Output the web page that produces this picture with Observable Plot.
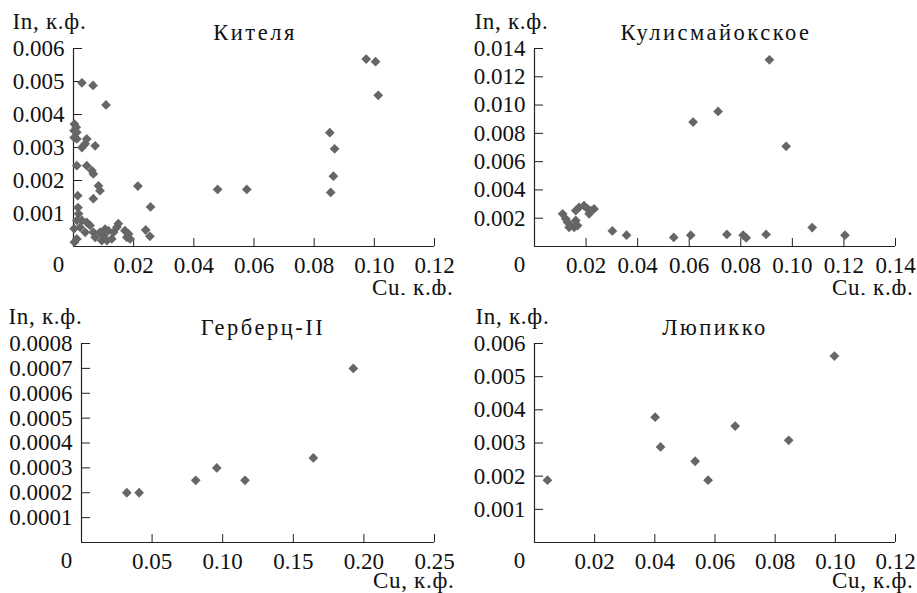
<!DOCTYPE html>
<html>
<head>
<meta charset="utf-8">
<script src="https://cdn.jsdelivr.net/npm/d3@7"></script>
<script src="https://cdn.jsdelivr.net/npm/@observablehq/plot@0.6"></script>
<style>
  html, body { margin: 0; padding: 0; background: #fff; }
  #wrap { position: relative; width: 917px; height: 593px; overflow: hidden; background: #fff; }
  .panel { position: absolute; }
  .panel svg { overflow: visible; font-family: "Liberation Serif", "Times New Roman", serif !important; }
  .panel svg text, .panel svg g { font-family: "Liberation Serif", "Times New Roman", serif !important; }
</style>
</head>
<body>
<div id="wrap"></div>
<script>
// ---------- DATA ----------
const titles = ["Кителя", "Кулисмайокское", "Герберц-II", "Люпикко"];
const yLabel = "In, к.ф.";
const xLabel = "Cu, к.ф.";

// Кителя
const kitelyaCu = [0.0973,0.1004,0.1013,0.0852,0.0868,0.0864,0.0855,0.0479,0.0576,0.0214,0.0256,0.0240,0.0254,0.0028,0.0065,0.0108,
  0.0003,0.0009,0.0002,0.0011,0.0002,0.0011,0.0044,0.0028,0.0039,0.0072,0.0011,0.0044,0.0061,0.0066,0.0083,0.0088,0.0066,0.0014,
  0.0015,0.0017,0.0011,0.0028,0.0002,0.0022,0.0044,0.0055,0.0039,0.0066,0.0072,0.0011,0.0003,0.0088,0.0100,0.0105,0.0116,0.0094,0.0111,0.0127,0.0133,0.0144,0.0149,0.0171,0.0183,0.0177,0.0188];
const kitelyaIn = [0.00568,0.00560,0.00458,0.00345,0.00296,0.00213,0.00164,0.00173,0.00173,0.00183,0.00120,0.00050,0.00031,0.00496,0.00488,0.00429,
  0.00371,0.00361,0.00351,0.00346,0.00330,0.00326,0.00326,0.00300,0.00311,0.00305,0.00245,0.00245,0.00230,0.00220,0.00184,0.00169,0.00145,0.00154,
  0.00118,0.00099,0.00079,0.00079,0.00054,0.00058,0.00073,0.00064,0.00043,0.00043,0.00028,0.00023,0.00013,0.00043,0.00033,0.00053,0.00048,0.00018,0.00018,0.00023,0.00043,0.00058,0.00069,0.00048,0.00038,0.00028,0.00023];

// Кулисмайокское
const kulisCu = [0.0911,0.0712,0.0615,0.0976,0.1077,0.1204,0.0898,0.0821,0.0809,0.0746,0.0606,0.0540,0.0357,0.0302,
  0.0109,0.0121,0.0128,0.0141,0.0134,0.0160,0.0167,0.0154,0.0160,0.0173,0.0192,0.0206,0.0218,0.0231,0.0212];
const kulisIn = [0.0132,0.00955,0.0088,0.00708,0.00134,0.00080,0.00085,0.00061,0.00080,0.00085,0.00080,0.00064,0.00080,0.00110,
  0.00231,0.00196,0.00172,0.00148,0.00136,0.00184,0.00148,0.00136,0.00254,0.00277,0.00289,0.00266,0.00254,0.00266,0.00231];

// Герберц-II
const gerbCu = [0.0321,0.0408,0.0809,0.0958,0.1158,0.1642,0.1925];
const gerbIn = [0.00020,0.00020,0.00025,0.00030,0.00025,0.00034,0.00070];

// Люпикко
const lyupCu = [0.0043,0.0401,0.0419,0.0534,0.0577,0.0667,0.0845,0.0997];
const lyupIn = [0.00188,0.00378,0.00288,0.00245,0.00188,0.00351,0.00308,0.00562];

// tick values
const xTicks1 = [0.02,0.04,0.06,0.08,0.10,0.12];
const yTicks1 = [0.001,0.002,0.003,0.004,0.005,0.006];
const xTicks2 = [0.02,0.04,0.06,0.08,0.10,0.12,0.14];
const yTicks2 = [0.002,0.004,0.006,0.008,0.010,0.012,0.014];
const xTicks3 = [0.05,0.10,0.15,0.20,0.25];
const yTicks3 = [0.0001,0.0002,0.0003,0.0004,0.0005,0.0006,0.0007,0.0008];
const xTicks4 = [0.02,0.04,0.06,0.08,0.10,0.12];
const yTicks4 = [0.001,0.002,0.003,0.004,0.005,0.006];

// ---------- DRAW ----------
const FONT = '"Liberation Serif", "Times New Roman", serif';
const FS_TICK = 23;
const FS_LAB = 23;
const FS_TITLE = 22.5;
const INK = "#111";
const AXIS = "#222";
const DOT = "#666666";

function panel(cfg) {
  const data = cfg.cu.map((c, i) => ({cu: c, inn: cfg.inn[i]}));
  const svg = Plot.plot({
    width: cfg.width,
    height: cfg.height,
    marginLeft: cfg.ml,
    marginRight: cfg.mr,
    marginTop: cfg.mt,
    marginBottom: cfg.mb,
    style: {fontFamily: FONT, fontSize: FS_TICK + "px", color: INK, background: "#fff", overflow: "visible"},
    x: {domain: cfg.xDomain},
    y: {domain: cfg.yDomain},
    marks: [
      Plot.ruleX([0], {stroke: AXIS, strokeWidth: 1.2}),
      Plot.ruleY([0], {stroke: AXIS, strokeWidth: 1.2}),
      Plot.axisX(cfg.xTicks, {tickSize: -8, tickPadding: 18, tickFormat: d3.format(".2f"), label: null, stroke: AXIS, fill: INK, fontSize: FS_TICK}),
      Plot.axisY(cfg.yTicks, {tickSize: -9, tickPadding: 18, tickFormat: d3.format(cfg.yFmt), label: null, stroke: AXIS, fill: INK, fontSize: FS_TICK}),
      Plot.dot(data, {x: "cu", y: "inn", symbol: "diamond2", r: 4.4, fill: DOT, stroke: "none"}),
      Plot.text([cfg.title], {frameAnchor: "top", dx: cfg.titleDx, dy: -9, lineAnchor: "bottom", fontSize: FS_TITLE, fill: INK}),
      Plot.text([yLabel], {frameAnchor: "top-left", dx: cfg.yLabDx, dy: -20, textAnchor: "start", lineAnchor: "bottom", fontSize: FS_LAB, fill: INK}),
      Plot.text([xLabel], {frameAnchor: "bottom-right", dx: cfg.xLabDx, dy: cfg.xLabDy, textAnchor: "end", lineAnchor: "bottom", fontSize: FS_LAB, fill: INK}),
      Plot.text(["0"], {frameAnchor: "bottom-left", dx: -15, dy: 25, textAnchor: "middle", lineAnchor: "bottom", fontSize: FS_TICK, fill: INK})
    ]
  });
  // wider letter spacing, as in the reference typeface
  d3.select(svg).selectAll("text").each(function() {
    const t = this.textContent;
    if (t === cfg.title) d3.select(this).attr("letter-spacing", "2.5px");
    else if (t === yLabel || t === xLabel) d3.select(this).attr("letter-spacing", "0.7px");
  });
  return svg;
}

const configs = [
  {left: 0, top: 0, width: 458, height: 296, ml: 73, mr: 24, mt: 48, mb: 50,
   cu: kitelyaCu, inn: kitelyaIn, xTicks: xTicks1, yTicks: yTicks1, xDomain: [0, 0.12], yDomain: [0, 0.006], yFmt: ".3f",
   title: titles[0], titleDx: 1, yLabDx: -61, xLabDx: 19, xLabDy: 48.5},
  {left: 458, top: 0, width: 459, height: 296, ml: 76, mr: 22, mt: 48, mb: 50,
   cu: kulisCu, inn: kulisIn, xTicks: xTicks2, yTicks: yTicks2, xDomain: [0, 0.14], yDomain: [0, 0.014], yFmt: ".3f",
   title: titles[1], titleDx: 1, yLabDx: -60, xLabDx: 18, xLabDy: 48.5},
  {left: 0, top: 295, width: 458, height: 298, ml: 81, mr: 24, mt: 48, mb: 51,
   cu: gerbCu, inn: gerbIn, xTicks: xTicks3, yTicks: yTicks3, xDomain: [0, 0.25], yDomain: [0, 0.0008], yFmt: ".4f",
   title: titles[2], titleDx: 5, yLabDx: -73, xLabDx: 20, xLabDy: 45.5},
  {left: 458, top: 295, width: 459, height: 298, ml: 76, mr: 22, mt: 48, mb: 51,
   cu: lyupCu, inn: lyupIn, xTicks: xTicks4, yTicks: yTicks4, xDomain: [0, 0.12], yDomain: [0, 0.006], yFmt: ".3f",
   title: titles[3], titleDx: 0, yLabDx: -59, xLabDx: 18, xLabDy: 45.5}
];

const wrap = document.getElementById("wrap");
for (const cfg of configs) {
  const div = document.createElement("div");
  div.className = "panel";
  div.style.left = cfg.left + "px";
  div.style.top = cfg.top + "px";
  div.appendChild(panel(cfg));
  wrap.appendChild(div);
}
</script>
</body>
</html>
